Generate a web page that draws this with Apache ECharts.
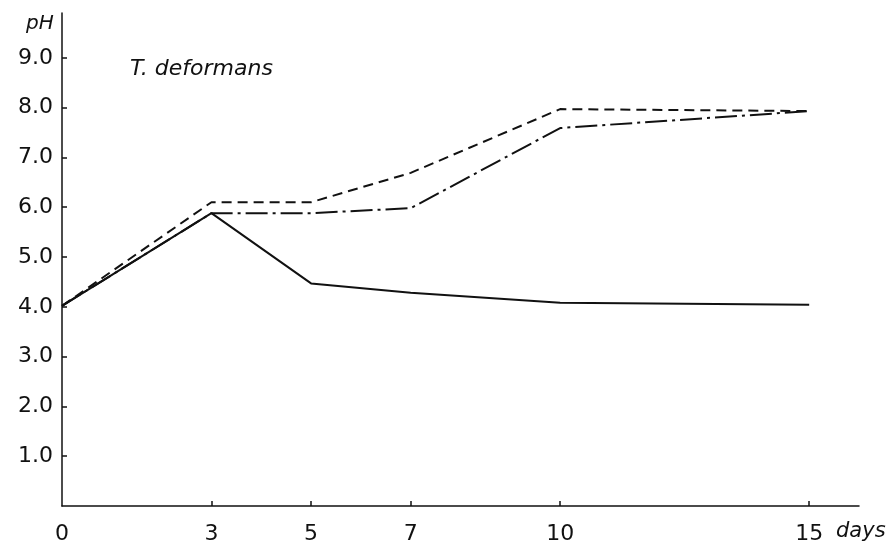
<!DOCTYPE html>
<html>
<head>
<meta charset="utf-8">
<script src="https://cdn.jsdelivr.net/npm/echarts@6/dist/echarts.min.js"></script>
<style>
  html, body { margin: 0; padding: 0; background: #fff; }
  #chart { width: 890px; height: 549px; }
</style>
</head>
<body>
<div id="chart"></div>
<script>
// Days after inoculation and the pH reading for each of three cultures
const days = [0, 3, 5, 7, 10, 15];
const phSolid = [4.02, 5.88, 4.47, 4.28, 4.08, 4.04];
const phDashed = [4.02, 6.10, 6.10, 6.69, 7.97, 7.93];
const phDashDot = [4.02, 5.88, 5.88, 5.98, 7.59, 7.93];

// Tick labels on each axis
const dayTicks = [0, 3, 5, 7, 10, 15];
const phTicks = [1, 2, 3, 4, 5, 6, 7, 8, 9];

const pairs = (ys) => days.map((d, i) => [d, ys[i]]);

const font = '"DejaVu Sans", sans-serif';
const ink = '#111';

const chart = echarts.init(document.getElementById('chart'), null, { renderer: 'canvas' });

chart.setOption({
  backgroundColor: '#ffffff',
  animation: false,
  grid: { left: 62, right: 31, top: 13, bottom: 43 },
  xAxis: {
    type: 'value',
    min: 0,
    max: 16,
    interval: 1,
    splitLine: { show: false },
    axisLine: { lineStyle: { color: ink, width: 1.5 } },
    axisTick: {
      inside: true,
      length: 5,
      customValues: dayTicks.filter(d => d > 0),
      lineStyle: { color: ink, width: 1.5 }
    },
    axisLabel: {
      customValues: dayTicks,
      color: ink,
      fontFamily: font,
      fontSize: 22,
      margin: 17,
      formatter: (v) => String(v)
    }
  },
  yAxis: {
    type: 'value',
    min: 0,
    max: 9.9,
    interval: 1,
    splitLine: { show: false },
    axisLine: { lineStyle: { color: ink, width: 1.5 } },
    axisTick: {
      inside: true,
      length: 5,
      customValues: phTicks,
      lineStyle: { color: ink, width: 1.5 }
    },
    axisLabel: {
      customValues: phTicks,
      color: ink,
      fontFamily: font,
      fontSize: 22,
      margin: 9,
      formatter: (v) => v.toFixed(1)
    }
  },
  graphic: [
    {
      type: 'text', left: 26, top: 14,
      style: { text: 'pH', fontFamily: font, fontStyle: 'italic', fontSize: 20, fill: ink }
    },
    {
      type: 'text', left: 130, top: 58,
      style: { text: 'T. deformans', fontFamily: font, fontStyle: 'italic', fontSize: 22, fill: ink }
    },
    {
      type: 'text', left: 836, top: 521,
      style: { text: 'days', fontFamily: font, fontStyle: 'italic', fontSize: 21, fill: ink }
    }
  ],
  series: [
    {
      type: 'line', name: 'solid',
      data: pairs(phSolid),
      symbol: 'none',
      lineStyle: { color: ink, width: 2, type: 'solid' }
    },
    {
      type: 'line', name: 'dashed',
      data: pairs(phDashed),
      symbol: 'none',
      lineStyle: { color: ink, width: 2, type: [10, 6] }
    },
    {
      type: 'line', name: 'dashdot',
      data: pairs(phDashDot),
      symbol: 'none',
      lineStyle: { color: ink, width: 2, type: [22, 5, 3, 5] }
    }
  ]
});
</script>
</body>
</html>
